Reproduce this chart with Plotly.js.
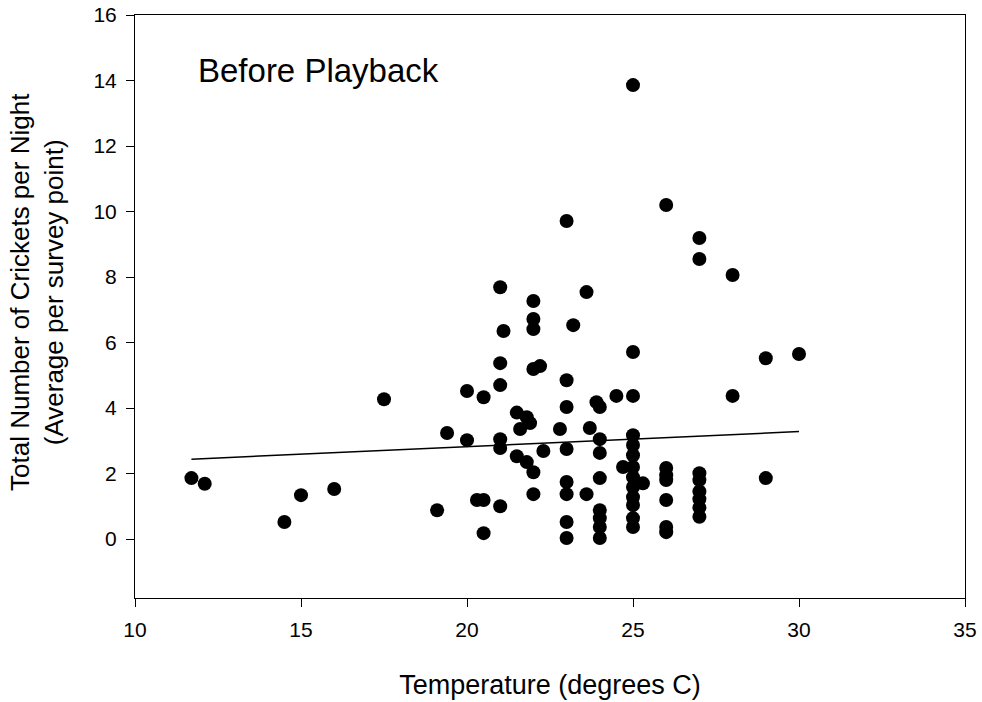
<!DOCTYPE html>
<html>
<head>
<meta charset="utf-8">
<script src="https://cdn.plot.ly/plotly-3.0.1.min.js"></script>
<style>html,body{margin:0;padding:0;background:#fff;}#chart{width:982px;height:702px;}</style>
</head>
<body>
<div id="chart"></div>
<script>
const temperature = [11.7,12.1,14.5,15.0,16.0,17.5,19.1,19.4,20.0,20.0,20.3,20.5,20.5,20.5,
  21.0,21.1,21.0,21.0,21.0,21.0,21.0,21.5,21.6,21.5,21.8,21.9,21.8,22.0,22.0,22.0,22.0,22.0,22.0,22.2,22.3,22.8,
  23.0,23.0,23.0,23.0,23.0,23.0,23.0,23.0,23.2,23.6,23.6,23.7,23.9,
  24.0,24.0,24.0,24.0,24.0,24.0,24.0,24.0,24.5,24.7,
  25.0,25.0,25.0,25.0,25.0,25.0,25.0,25.0,25.0,25.0,25.0,25.0,25.0,25.3,
  26.0,26.0,26.0,26.0,26.0,26.0,26.0,
  27.0,27.0,27.0,27.0,27.0,27.0,27.0,27.0,
  28.0,28.0,29.0,29.0,30.0];
const crickets = [1.86,1.69,0.52,1.34,1.53,4.27,0.88,3.24,4.52,3.02,1.19,1.19,4.33,0.18,
  7.69,6.35,5.37,4.70,3.05,2.78,1.00,3.86,3.36,2.53,3.72,3.54,2.35,2.04,1.37,7.27,6.72,6.41,5.19,5.28,2.69,3.36,
  9.71,4.85,4.03,2.75,1.74,1.37,0.52,0.03,6.53,7.54,1.37,3.39,4.18,
  4.03,3.05,2.63,1.86,0.88,0.64,0.37,0.03,4.37,2.20,
  13.86,5.71,4.37,3.17,2.87,2.56,2.20,1.89,1.59,1.28,1.04,0.64,0.37,1.70,
  10.20,2.17,1.95,1.80,1.19,0.37,0.21,
  9.19,8.55,2.01,1.80,1.45,1.22,0.96,0.68,
  8.06,4.37,5.52,1.86,5.65];
const fitX = [11.7, 30.0];
const fitY = [2.44, 3.28];
const xTicks = [10,15,20,25,30,35];
const yTicks = [0,2,4,6,8,10,12,14,16];

const FONT = 'Arial, "Liberation Sans", sans-serif';

const data = [
  {x: temperature, y: crickets, type: 'scatter', mode: 'markers',
   marker: {color: '#000', size: 14}, hoverinfo: 'x+y', showlegend: false},
  {x: fitX, y: fitY, type: 'scatter', mode: 'lines',
   line: {color: '#000', width: 1.5}, hoverinfo: 'skip', showlegend: false}
];

const layout = {
  width: 982, height: 702,
  margin: {l: 135, r: 17, t: 15, b: 104},
  paper_bgcolor: '#fff', plot_bgcolor: '#fff',
  font: {family: FONT, color: '#000', size: 21},
  title: {text: 'Before Playback', font: {size: 33, family: FONT, color: '#000'},
          xref: 'container', yref: 'container', x: 198/982, xanchor: 'left',
          y: 1 - 70/702, yanchor: 'middle'},
  xaxis: {range: [10, 35], tickvals: xTicks, ticktext: xTicks.map(String),
          ticks: 'outside', ticklen: 8, tickwidth: 1, tickcolor: '#000',
          ticklabelstandoff: 5,
          showline: true, linecolor: '#000', linewidth: 1, mirror: true,
          showgrid: false, zeroline: false, tickfont: {size: 21},
          title: {text: 'Temperature (degrees C)', font: {size: 27}, standoff: 34}},
  yaxis: {range: [-1.8, 16], tickvals: yTicks, ticktext: yTicks.map(String),
          ticks: 'outside', ticklen: 8, tickwidth: 1, tickcolor: '#000',
          ticklabelstandoff: 5,
          showline: true, linecolor: '#000', linewidth: 1, mirror: true,
          showgrid: false, zeroline: false, tickfont: {size: 21}},
  annotations: [{
    text: 'Total Number of Crickets per Night<br>(Average per survey point)',
    xref: 'paper', yref: 'paper', x: (37 - 135) / 830, y: (598 - 292) / 583,
    xanchor: 'center', yanchor: 'middle', textangle: -90, showarrow: false,
    font: {size: 26, family: FONT, color: '#000'}
  }]
};

Plotly.newPlot('chart', data, layout, {displayModeBar: false, staticPlot: true});
</script>
</body>
</html>
